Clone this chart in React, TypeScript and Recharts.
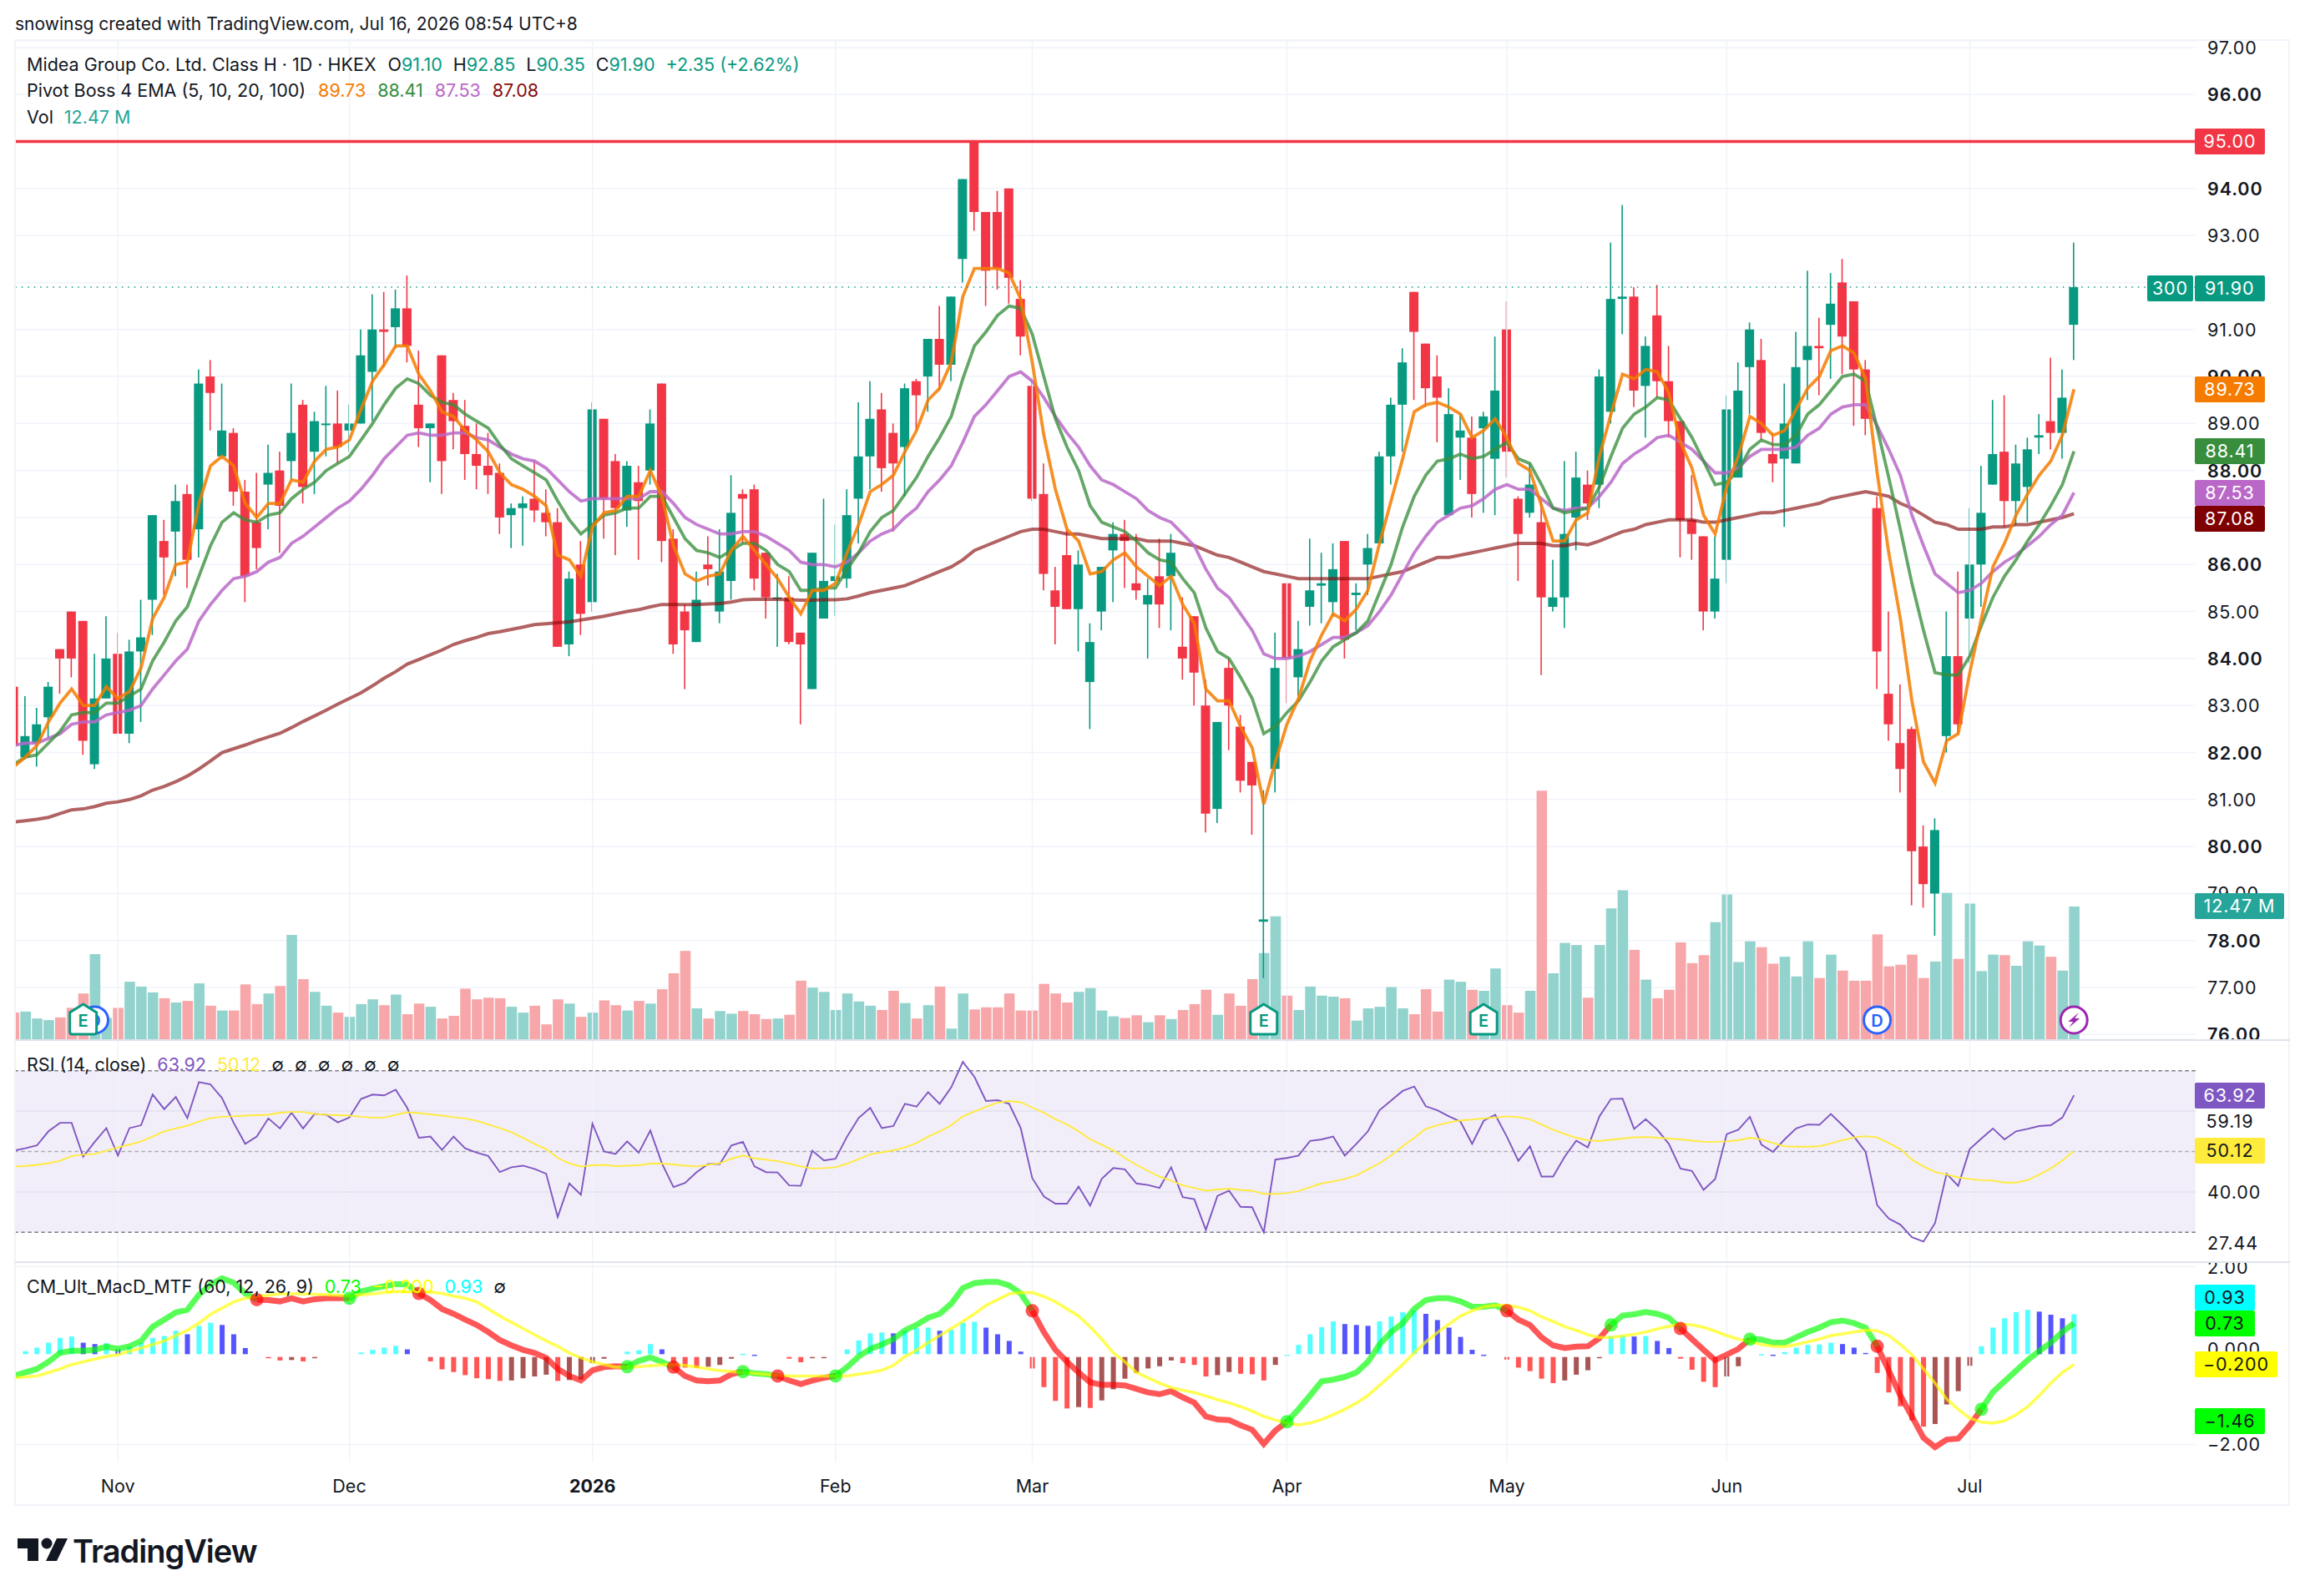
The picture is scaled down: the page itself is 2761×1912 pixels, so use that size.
import React from 'react';
import { ComposedChart, Bar, Line, XAxis, YAxis, CartesianGrid, ReferenceLine, ReferenceArea, ReferenceDot } from 'recharts';

const opens = [
  83.4,81.9,82.2,82.75,84.2,85,84.8,81.75,83.15,84.1,
  82.4,84.15,85.25,86.5,86.7,87.5,86.75,90,88.3,88.8,
  87.55,86.9,87.7,88,88.2,89.4,88.4,89,89,88.85,
  89,90.1,91,91.05,91.45,89.4,88.9,90.45,89.5,88.95,
  88.35,88.1,87.95,87.05,87.2,87.4,87.1,86.9,84.3,86,
  85.2,89.1,88.2,87.15,87.75,88,89.85,86.55,85,84.35,
  86,85,85.65,87.5,87.6,86.25,85.3,85.3,84.55,83.35,
  84.85,85.65,85.7,87.4,88.3,89.3,88.8,88.5,89.9,90,
  90.8,90.25,92.5,95,93.5,93.5,94,91.65,89.8,87.5,
  85.45,86.2,85.05,83.5,85,86.3,86.65,85.6,85.15,85.75,
  85.75,84.25,84.9,83,80.8,83.8,82.55,81.8,78.4,81.65,
  85.6,83.6,85.1,85.55,85.2,86.5,85.35,86,86.45,88.3,
  89.4,91.8,90.7,90,87.05,88.7,88.7,88.9,88.25,91,
  87.4,87.1,86.9,85.1,85.3,87,87.7,87.7,89.25,91.65,
  91.7,89.8,91.3,89.9,89.05,86.95,86.6,85,86.1,87.85,
  90.2,90.35,88.35,88.25,88.15,90.35,90.65,91.1,92,91.6,
  90.15,87.2,83.25,82.2,82.5,80,79,82.35,84.05,84.85,
  86,87.7,88.4,87.35,87.65,88.7,89.05,88.8,91.1,
];
const highs = [
  83.4,83.2,82.95,83.5,84.2,85,84.8,84.1,84.9,84.55,
  84.4,85.25,87.05,86.95,87.7,87.7,90.15,90.35,89.85,88.9,
  87.8,87.95,88.55,88.4,89.85,89.5,89.25,89.8,89.7,89.4,
  91,91.75,91.8,91.85,92.15,90.55,89,90.45,89.65,89.5,
  89,88.8,88.15,87.3,87.45,88.2,87.6,87.2,85.85,86.5,
  89.45,89.1,88.35,88.2,88.1,89.3,89.85,86.75,85.15,85.85,
  86.6,86.75,87.9,87.6,87.7,86.25,85.8,85.75,84.55,86.25,
  87.4,86.85,87.6,89.45,89.9,89.65,89,89.85,89.95,90.8,
  91.5,91.7,94.2,95,93.5,93.95,94,92.05,89.95,88.15,
  85.95,86.75,86.3,84.75,85.95,86.9,86.95,86.65,85.7,86.55,
  86.65,85.3,84.9,83.55,82.65,84,82.8,81.8,81.2,84.55,
  85.6,84.8,86.55,86.25,86.45,86.5,85.6,86.65,88.4,89.55,
  90.6,91.8,90.7,90.45,89.75,89.2,89.15,89.25,90.85,91.6,
  87.45,88.15,87.4,86.1,88.2,88.4,88,90.15,92.85,93.65,
  91.9,90.85,91.95,90.65,89.05,87.9,86.6,86.6,89.6,90.3,
  91.15,90.8,88.8,89.85,90.95,92.25,91.25,92.2,92.5,91.6,
  90.35,87.45,85,83.45,82.55,80.45,80.6,85,85.85,87.2,
  88.1,89.5,89.6,88.55,88.7,89.2,90.4,90.15,92.85,
];
const lows = [
  82.15,81.85,81.7,82.3,83.25,83.6,81.95,81.65,83.15,82.4,
  82.2,82.65,84.5,85.35,85.75,85.5,86.15,88.85,88.3,87.25,
  85.2,85.9,86.75,86.25,87.8,87.3,87.5,88.3,88.15,88.4,
  89,89.05,90.2,90.6,90.3,88.5,87.75,87.5,88.45,87.8,
  87.6,87.5,86.65,86.35,86.4,86.9,86.6,84.25,84.05,84.5,
  85,86.55,86.2,86.8,86.1,87.7,86.05,84.1,83.35,84.35,
  85.55,84.75,85.25,86.45,85.45,84.85,84.25,84.3,82.6,83.35,
  84.85,84.9,85.5,86.45,87.6,87.55,86.7,87.45,88.85,89.25,
  89.7,89.9,92,93.1,91.5,91.85,91.55,90.45,87.35,85.45,
  84.3,85.05,84.15,82.5,84.6,85.2,85.5,85.25,84,84.65,
  84.6,83.55,83,80.3,80.5,82.05,81.15,80.25,77.2,81.15,
  83.05,83.2,84.7,84.75,84.9,84,84.6,85.35,86.45,87.7,
  88.4,89.5,89.35,88.6,87.05,87.8,87,87.1,87.05,87.85,
  85.65,87,83.65,85,84.65,86.3,86.95,87.2,89,90.9,
  89.35,88.7,89.55,88.7,86.15,86.1,84.6,84.85,85.6,87.85,
  89.2,88.65,87.75,86.8,88.15,89.5,89.6,89.95,90.05,88.95,
  88.75,83.35,82.25,81.15,78.75,78.7,78.1,82,82.4,83.9,
  85.1,87.7,86.8,86.85,86.9,88.35,88.45,88.25,90.35,
];
const closes = [
  82.15,82.35,82.6,83.4,84,84,82.25,83.15,84,82.4,
  84.15,84.45,87.05,86.15,87.35,86.1,89.85,89.65,88.85,87.55,
  85.75,86.35,87.95,87.25,88.8,87.65,89.05,89,88.5,89,
  90.45,91,90.95,91.45,90.65,88.9,89,88.2,89.05,88.35,
  88.1,87.9,87,87.2,87.3,87.15,86.9,84.25,85.7,84.95,
  89.3,87.4,87.2,88.1,87.35,89,86.5,84.3,84.6,85.25,
  85.9,85.85,87.1,87.4,85.7,85.3,85.3,84.35,84.3,86.25,
  85.65,85.75,87.05,88.3,89.1,88.05,88.15,89.75,89.6,90.8,
  90.25,91.7,94.2,93.5,92.25,92.3,92.1,90.85,87.4,85.8,
  85.1,85.05,86,84.35,85.95,86.65,86.5,85.45,85.35,85.15,
  86.25,84,83.7,80.7,82.65,83,81.4,81.3,78.45,83.8,
  84,84.2,85.45,85.6,85.9,84.4,85.4,86.35,88.3,89.4,
  90.3,90.95,89.75,89.55,89.2,88.85,87.5,89.15,89.7,88.4,
  86.65,87.7,85.3,85.3,86.65,87.85,87.3,90,91.65,91.7,
  89.7,90.65,89.9,89.05,86.95,86.65,85,85.7,89.3,89.7,
  91,88.8,88.15,89,90.2,90.65,90.6,91.55,90.85,90.15,
  89.1,84.15,82.6,81.65,79.9,79.2,80.35,84.05,82.6,86,
  87.1,88.35,87.35,88.15,88.45,88.75,88.8,89.55,91.9,
];
const volumes = [
  2.5,2.6,1.95,1.8,2.05,2.95,4.3,8,2,2.95,
  5.4,4.95,4.4,3.85,3.45,3.6,5.25,3.15,2.7,2.7,
  5.15,3.3,4.3,5,9.8,5.65,4.45,3.15,2.5,2.1,
  3.3,3.75,3.2,4.2,2.35,3.35,3.05,1.95,2.2,4.75,
  3.75,3.9,3.85,3.05,2.5,3.15,1.4,3.75,3.35,2.1,
  2.5,3.65,3.2,2.7,3.6,3.35,4.7,6.2,8.3,2.9,
  1.95,2.65,2.4,2.65,2.35,1.9,1.95,2.3,5.5,4.85,
  4.45,2.75,4.3,3.55,3.15,2.75,4.55,3.4,1.95,3.2,
  4.95,1,4.3,2.8,3,3,4.3,2.7,2.7,5.2,
  4.3,3.45,4.45,4.8,2.7,2.15,2,2.25,1.6,2.25,
  1.9,2.75,3.3,4.65,2.3,4.3,3.15,5.65,8.1,11.55,
  4.1,2.75,4.95,4.1,4,3.85,1.75,2.9,3.05,4.9,
  2.9,2.35,4.7,2.6,5.6,5.4,4.65,4.55,6.65,3.2,
  2.5,4.55,23.35,6.2,9.05,8.85,3.9,8.85,12.3,14,
  8.4,5.6,3.85,4.65,9.1,7.15,7.9,11,13.6,7.25,
  9.2,8.65,7.1,7.75,5.9,9.2,5.75,7.95,6.45,5.5,
  5.5,9.85,6.85,7,7.95,5.75,7.3,13.75,7.55,12.75,
  6.4,7.95,7.9,6.9,9.2,8.8,7.75,6.45,12.47,
];
const ema5 = [
  81.7,81.9,82.15,82.65,83.05,83.35,83,83,83.4,83.15,
  83.3,83.8,84.85,85.3,86,86.05,87.3,88.1,88.3,88.1,
  87.3,87,87.3,87.3,87.8,87.75,88.2,88.45,88.5,88.65,
  89.3,89.9,90.25,90.65,90.65,90.05,89.7,89.25,89.15,88.85,
  88.65,88.4,87.95,87.7,87.6,87.45,87.25,86.2,86.1,85.75,
  86.8,87.1,87.15,87.45,87.45,88,87.45,86.4,85.8,85.65,
  85.75,85.8,86.3,86.6,86.3,86,85.7,85.3,84.95,85.45,
  85.45,85.6,86.25,86.85,87.55,87.7,87.9,88.4,88.85,89.5,
  89.75,90.3,91.7,92.3,92.3,92.3,92.2,91.65,90.3,88.75,
  87.6,86.75,86.5,85.8,85.85,86.1,86.25,85.95,85.75,85.55,
  85.75,85.15,84.75,83.35,83.1,83.1,82.55,82.1,80.9,81.8,
  82.6,83.15,83.95,84.5,84.95,84.8,85.05,85.45,86.45,87.35,
  88.25,89.25,89.4,89.45,89.35,89.2,88.7,88.85,89.1,88.7,
  88.15,88,87.25,86.5,86.5,86.95,87.1,88.3,89.2,90.05,
  89.95,90.15,90.1,89.65,88.6,88.05,87.05,86.65,87.65,88.3,
  89.15,89,88.75,88.85,89.3,89.75,90,90.55,90.65,90.5,
  89.95,87.95,86.25,84.85,83.1,81.8,81.35,82.25,82.4,83.7,
  84.85,85.95,86.45,87.05,87.5,87.9,88.2,88.75,89.73,
];
const ema10 = [
  81.75,81.9,81.95,82.2,82.45,82.8,82.85,82.85,83.05,83.05,
  83.2,83.35,83.95,84.35,84.8,85.1,85.75,86.4,86.9,87.1,
  86.95,86.9,87.05,87.1,87.4,87.6,87.75,88,88.15,88.3,
  88.65,89,89.4,89.75,89.95,89.85,89.6,89.45,89.4,89.2,
  89.05,88.9,88.55,88.25,88.1,87.95,87.8,87.35,86.95,86.65,
  86.85,87.05,87.1,87.2,87.2,87.45,87.45,87,86.55,86.3,
  86.25,86.15,86.3,86.45,86.45,86.3,86,85.85,85.45,85.45,
  85.5,85.5,85.9,86.25,86.7,87,87.15,87.5,87.85,88.3,
  88.7,89.15,89.95,90.65,90.95,91.3,91.5,91.45,90.9,90,
  89.1,88.5,88,87.25,86.9,86.8,86.7,86.5,86.25,86.1,
  86.05,85.7,85.4,84.65,84.15,84,83.6,83.15,82.4,82.55,
  82.85,83.1,83.5,83.95,84.25,84.4,84.55,84.8,85.4,86,
  86.8,87.45,87.9,88.2,88.25,88.35,88.25,88.3,88.45,88.6,
  88.25,88.15,87.7,87.2,87.1,87.15,87.2,87.65,88.3,88.9,
  89.2,89.35,89.55,89.5,89.1,88.7,88.2,87.7,87.75,88,
  88.45,88.65,88.55,88.55,88.75,89.2,89.4,89.7,90,90.05,
  89.9,88.9,87.85,86.75,85.6,84.6,83.7,83.65,83.65,84.05,
  84.7,85.3,85.75,86.1,86.5,86.85,87.25,87.7,88.41,
];
const ema20 = [
  82.15,82.2,82.2,82.3,82.4,82.6,82.65,82.65,82.8,82.85,
  82.9,83,83.35,83.65,83.95,84.2,84.8,85.15,85.45,85.7,
  85.75,85.85,86.05,86.15,86.45,86.6,86.8,87,87.2,87.35,
  87.6,87.9,88.25,88.5,88.75,88.8,88.75,88.75,88.8,88.8,
  88.7,88.65,88.5,88.35,88.25,88.2,88.05,87.8,87.55,87.35,
  87.4,87.4,87.4,87.4,87.4,87.55,87.55,87.3,87,86.85,
  86.75,86.65,86.65,86.7,86.7,86.6,86.45,86.3,86.05,86,
  86,85.95,86.05,86.25,86.5,86.65,86.75,87,87.2,87.55,
  87.8,88.1,88.6,89.15,89.4,89.7,90,90.1,89.9,89.55,
  89.15,88.8,88.5,88.1,87.8,87.7,87.55,87.4,87.15,87,
  86.9,86.65,86.4,85.9,85.5,85.3,84.95,84.6,84.1,84,
  84,84.05,84.15,84.3,84.45,84.45,84.55,84.7,85,85.35,
  85.8,86.25,86.6,86.9,87.05,87.2,87.25,87.4,87.6,87.7,
  87.6,87.6,87.4,87.2,87.15,87.2,87.2,87.45,87.75,88.15,
  88.35,88.5,88.7,88.75,88.6,88.45,88.2,87.95,87.95,88.05,
  88.3,88.45,88.45,88.45,88.5,88.75,88.9,89.2,89.35,89.4,
  89.4,88.95,88.45,87.9,87.05,86.4,85.8,85.6,85.4,85.45,
  85.6,85.85,86.05,86.2,86.4,86.6,86.85,87.05,87.53,
];
const ema100 = [
  80.52,80.55,80.58,80.62,80.7,80.78,80.8,80.85,80.92,80.95,
  81,81.08,81.2,81.28,81.38,81.5,81.65,81.82,82,82.08,
  82.16,82.25,82.33,82.41,82.53,82.66,82.78,82.9,83.03,83.15,
  83.27,83.42,83.58,83.72,83.88,83.98,84.08,84.18,84.3,84.38,
  84.45,84.53,84.57,84.62,84.67,84.72,84.74,84.76,84.78,84.82,
  84.86,84.9,84.95,85,85.04,85.1,85.15,85.15,85.15,85.15,
  85.16,85.17,85.2,85.25,85.26,85.26,85.26,85.25,85.24,85.24,
  85.25,85.25,85.27,85.33,85.4,85.45,85.5,85.55,85.65,85.75,
  85.85,85.95,86.1,86.3,86.4,86.5,86.6,86.7,86.75,86.75,
  86.7,86.65,86.65,86.6,86.55,86.55,86.55,86.55,86.5,86.5,
  86.5,86.45,86.4,86.3,86.2,86.15,86.05,85.95,85.85,85.8,
  85.75,85.7,85.7,85.7,85.7,85.7,85.7,85.7,85.75,85.8,
  85.85,85.95,86.05,86.15,86.15,86.2,86.25,86.3,86.35,86.4,
  86.45,86.45,86.45,86.4,86.4,86.45,86.42,86.5,86.6,86.7,
  86.75,86.85,86.9,86.95,86.95,86.95,86.9,86.9,86.95,87,
  87.05,87.1,87.1,87.15,87.2,87.25,87.3,87.4,87.45,87.5,
  87.55,87.5,87.45,87.3,87.2,87.05,86.9,86.85,86.75,86.75,
  86.75,86.8,86.8,86.85,86.85,86.9,86.95,87,87.08,
];
const rsi = [
  50.2,50.8,51.5,55,57.1,57.1,48.7,52.4,55.8,49,
  55.8,56.5,64.1,60.5,63.5,58.3,67.2,66.6,63.2,57.1,
  51.9,53.7,58.2,55.7,59.6,55.7,59.3,59.1,57.2,58.4,
  63,64.1,63.9,65.3,60.8,53.4,53.7,50.4,53.7,50.8,
  49.7,48.9,44.9,46.1,46.5,45.7,44.5,33.8,42.1,39.3,
  56.9,50,49.4,52.5,49.7,55.2,47.1,41.2,42.2,44.9,
  46.9,46.9,51.5,52.4,46.3,44.9,44.8,41.6,41.5,50.2,
  47.8,48.2,53.7,58.3,60.8,55.8,56.3,61.8,61.1,64.7,
  61.8,65.9,72.2,68.5,62.5,62.7,61.8,55.8,43.4,38.9,
  37.1,37.1,41.3,36.6,43.2,45.9,45.6,42.1,41.7,41,
  46.1,38.7,38.2,30.6,39,40.3,36.3,36.2,30,48,
  48.4,49,52.6,53,53.7,49,51.9,55,60.2,62.6,
  65,66.1,61.2,60.2,58.7,57.4,51.9,57.6,59.1,53.7,
  47.7,51.3,43.8,43.8,48.7,52.7,51,58.7,63,63.1,
  55.6,58,55.4,51.9,45.8,45.2,40.5,43.2,54.3,55.4,
  58.6,51.7,49.9,53,55.7,56.7,56.6,59.3,56.5,53.7,
  49.9,36.7,33.4,31.9,28.8,27.7,32.3,44.5,41.5,50.6,
  53.2,55.7,53,55,55.6,56.3,56.5,58.4,63.92,
];
const rsiMa = [
  46.3,46.4,46.7,47.1,47.7,48.9,49.2,49.4,50.2,51,
  51.7,52.5,53.7,55,55.7,56.4,57.4,58.3,58.6,58.7,
  58.9,59,59.1,59.6,59.8,59.8,59.3,59.1,59,58.9,
  58.6,58.4,58.4,59.1,59.7,59.5,59.2,58.9,58.5,58.2,
  57.6,56.7,55.8,54.8,53.4,51.9,50.6,48.4,47.1,46.3,
  46.6,46.7,46.4,46.5,46.6,47,47,46.8,46.5,46.3,
  46.7,47.1,48.2,49,48.3,48,47.6,47,46.3,45.8,
  45.9,46.1,47,48.1,49.3,49.8,50.3,51,52.1,53.7,
  55,56.5,58.7,59.9,61.1,62.1,62.5,62.2,60.9,59.6,
  58,56.7,55,53,51.7,50.3,48.4,46.7,45.2,43.8,
  42.8,41.6,41,40.3,40.6,40.8,40.5,40.3,39.5,39.5,
  39.7,40.2,41.2,42.1,42.6,43.2,44.1,45.6,47.1,49,
  51.3,53.4,55.6,56.5,57.2,57.7,57.9,58.2,58.4,58.7,
  58.5,58,56.7,55.4,54.3,53.4,52.8,52.6,52.9,53.2,
  53.5,53.6,53.4,53.2,53,52.7,52.4,52.4,52.5,52.8,
  53.4,53,52.1,51.3,51.2,51.2,51.3,52,52.8,53.5,
  53.8,53.5,52.1,50.6,48,46.3,44.9,44.3,43.6,43.2,
  42.9,42.8,42.3,42.3,42.9,44.3,45.8,47.8,50.12,
];
const macd = [
  -0.46,-0.38,-0.3,-0.14,0.06,0.11,0.11,0.13,0.2,0.15,
  0.21,0.33,0.65,0.81,0.97,1.03,1.37,1.6,1.74,1.64,
  1.4,1.26,1.25,1.22,1.29,1.22,1.27,1.29,1.29,1.29,
  1.44,1.51,1.56,1.61,1.6,1.4,1.25,1.05,0.94,0.81,
  0.69,0.53,0.35,0.23,0.13,0.06,-0.05,-0.3,-0.46,-0.56,
  -0.33,-0.26,-0.24,-0.25,-0.12,-0.04,-0.14,-0.26,-0.46,-0.56,
  -0.58,-0.56,-0.42,-0.36,-0.4,-0.42,-0.46,-0.56,-0.64,-0.56,
  -0.5,-0.46,-0.26,-0.02,0.15,0.25,0.37,0.57,0.69,0.85,
  0.94,1.17,1.52,1.63,1.66,1.66,1.58,1.4,1.01,0.53,
  0.13,-0.14,-0.38,-0.6,-0.66,-0.66,-0.67,-0.75,-0.83,-0.87,
  -0.8,-0.94,-1.06,-1.37,-1.44,-1.45,-1.57,-1.67,-1.99,-1.69,
  -1.49,-1.21,-0.9,-0.58,-0.54,-0.48,-0.38,-0.14,0.25,0.53,
  0.73,1.05,1.25,1.29,1.29,1.22,1.1,1.1,1.13,1.01,
  0.81,0.69,0.41,0.23,0.17,0.2,0.21,0.39,0.69,0.9,
  0.93,0.98,0.94,0.85,0.61,0.37,0.13,-0.1,0.02,0.15,
  0.37,0.36,0.29,0.29,0.41,0.53,0.63,0.75,0.79,0.73,
  0.63,0.21,-0.34,-0.9,-1.37,-1.85,-2.06,-1.89,-1.87,-1.57,
  -1.21,-0.82,-0.58,-0.34,-0.1,0.1,0.29,0.53,0.73,
];
const macdSignal = [
  -0.5,-0.48,-0.46,-0.38,-0.3,-0.2,-0.14,-0.08,-0.02,0.02,
  0.1,0.17,0.25,0.33,0.45,0.57,0.73,0.93,1.07,1.21,
  1.29,1.33,1.36,1.39,1.39,1.39,1.38,1.37,1.36,1.34,
  1.37,1.39,1.42,1.44,1.44,1.44,1.43,1.4,1.34,1.29,
  1.21,1.05,0.89,0.75,0.61,0.47,0.33,0.21,0.06,-0.05,
  -0.14,-0.2,-0.26,-0.26,-0.25,-0.23,-0.21,-0.2,-0.22,-0.26,
  -0.3,-0.34,-0.36,-0.38,-0.4,-0.42,-0.44,-0.46,-0.46,-0.46,
  -0.46,-0.46,-0.46,-0.42,-0.38,-0.33,-0.22,-0.02,0.12,0.29,
  0.45,0.61,0.77,0.94,1.13,1.26,1.39,1.42,1.42,1.33,
  1.21,1.05,0.89,0.65,0.37,0.06,-0.14,-0.38,-0.5,-0.62,
  -0.72,-0.78,-0.83,-0.91,-0.99,-1.06,-1.15,-1.25,-1.37,-1.45,
  -1.52,-1.56,-1.52,-1.44,-1.33,-1.21,-1.07,-0.9,-0.67,-0.44,
  -0.2,0.06,0.31,0.52,0.71,0.89,1.01,1.1,1.13,1.13,
  1.09,1.01,0.87,0.77,0.65,0.57,0.47,0.41,0.41,0.44,
  0.48,0.53,0.6,0.66,0.71,0.69,0.64,0.55,0.45,0.37,
  0.32,0.25,0.21,0.2,0.25,0.31,0.37,0.45,0.49,0.53,
  0.57,0.56,0.45,0.25,0.02,-0.3,-0.62,-0.98,-1.21,-1.41,
  -1.5,-1.52,-1.47,-1.33,-1.15,-0.9,-0.62,-0.38,-0.2,
];
const macdHist = [
  0,0.1,0.18,0.29,0.4,0.43,0.29,0.26,0.28,0.14,
  0.21,0.29,0.4,0.44,0.56,0.48,0.67,0.74,0.69,0.48,
  0.17,0,-0.04,-0.11,-0.1,-0.13,-0.06,0,0,0,
  0.07,0.13,0.18,0.22,0.14,0,-0.13,-0.31,-0.37,-0.44,
  -0.51,-0.53,-0.57,-0.56,-0.51,-0.47,-0.43,-0.57,-0.55,-0.54,
  -0.17,-0.07,0,0.09,0.12,0.26,0.14,-0.21,-0.27,-0.28,
  -0.25,-0.21,-0.07,0.04,0.02,0,0,-0.07,-0.15,-0.02,
  -0.01,0,0.14,0.34,0.5,0.52,0.5,0.56,0.62,0.63,
  0.56,0.58,0.74,0.76,0.63,0.48,0.33,0.09,-0.29,-0.71,
  -1.02,-1.19,-1.16,-1.18,-1.01,-0.76,-0.52,-0.39,-0.29,-0.24,
  -0.11,-0.17,-0.21,-0.47,-0.44,-0.37,-0.41,-0.42,-0.56,-0.21,
  0.02,0.24,0.48,0.64,0.77,0.71,0.69,0.67,0.77,0.88,
  0.98,1.02,0.94,0.8,0.63,0.42,0.13,0.02,0,-0.09,
  -0.27,-0.35,-0.52,-0.62,-0.56,-0.43,-0.33,-0.06,0.44,0.45,
  0.43,0.44,0.33,0.17,-0.07,-0.32,-0.59,-0.71,-0.47,-0.24,
  0,0.03,0.02,0.08,0.18,0.24,0.25,0.29,0.26,0.18,
  0.06,-0.39,-0.83,-1.14,-1.46,-1.6,-1.54,-1.1,-0.8,-0.23,
  0.21,0.63,0.84,0.98,1.03,0.99,0.92,0.84,0.93,
];

// bars where the MACD line crosses its signal
const crossUp = [29, 53, 63, 71, 110, 138, 150, 170];
const crossDown = [21, 35, 57, 66, 88, 129, 144, 161];
const monthBars = [9, 29, 50, 71, 88, 110, 129, 148, 169];
const monthNames = ['Nov', 'Dec', '2026', 'Feb', 'Mar', 'Apr', 'May', 'Jun', 'Jul'];
const priceTicks = [76,77,78,79,80,81,82,83,84,85,86,87,88,89,90,91,92,93,94,95,96,97];

const BAND_COUNT = 189;
const isMacdUp = (i: number) => {
  const ups = crossUp.filter((c) => c <= i);
  const downs = crossDown.filter((c) => c < i);
  const lastUp = ups.length ? ups[ups.length - 1] : 0;
  const lastDown = downs.length ? downs[downs.length - 1] : -1;
  return lastUp > lastDown;
};
const isMacdDown = (i: number) => {
  const downs = crossDown.filter((c) => c <= i);
  const ups = crossUp.filter((c) => c < i);
  const lastDown = downs.length ? downs[downs.length - 1] : -1;
  const lastUp = ups.length ? ups[ups.length - 1] : -1;
  return lastDown >= 0 && lastDown > lastUp;
};

const rows = Array.from({ length: BAND_COUNT }, (_, i) => ({
  i,
  open: opens[i], high: highs[i], low: lows[i], close: closes[i],
  volume: volumes[i],
  ema5: ema5[i], ema10: ema10[i], ema20: ema20[i], ema100: ema100[i],
  rsi: rsi[i], rsiMa: rsiMa[i],
  hist: macdHist[i], signal: macdSignal[i],
  macdUp: i < macd.length && isMacdUp(i) ? macd[i] : null,
  macdDown: i < macd.length && isMacdDown(i) ? macd[i] : null,
}));

const FONT = 'Inter, "Noto Sans", sans-serif';
const UP = '#089981';
const DOWN = '#f23645';
const GRID = '#f0f3fa';
const CHART_W = 2761;
const MARGIN = { top: 0, bottom: 0, left: 9.53, right: 0 };

const Candle = (props: any) => {
  const { x, y, width, height, payload } = props;
  if (payload.open == null) return null;
  const top = Math.min(y, y + height);
  const k = Math.abs(height) / (payload.high - payload.low);
  const yOpen = top + (payload.high - payload.open) * k;
  const yClose = top + (payload.high - payload.close) * k;
  const color = payload.close >= payload.open ? UP : DOWN;
  return (
    <g>
      <rect x={x + width / 2 - 0.8} y={top} width={1.6} height={Math.abs(height)} fill={color} />
      <rect x={x} y={Math.min(yOpen, yClose)} width={width} height={Math.max(Math.abs(yOpen - yClose), 2)} fill={color} />
    </g>
  );
};

const VolumeBar = (props: any) => {
  const { x, y, width, height, payload } = props;
  if (payload.volume == null) return null;
  return <rect x={x} y={y} width={width} height={height} fill={payload.close >= payload.open ? '#92d3cd' : '#f7a7a9'} />;
};

const HistBar = (props: any) => {
  const { x, y, width, height, payload } = props;
  const v = payload.hist;
  if (!v) return null;
  const prev = macdHist[payload.i - 1] ?? 0;
  const color = v > 0 ? (v >= prev ? '#55ffff' : '#5555ff') : (v <= prev ? '#ff5555' : '#aa5555');
  const top = Math.min(y, y + height);
  const h = Math.abs(height);
  const gap = 1.7;
  return <rect x={x} y={v > 0 ? top : top + gap} width={width} height={Math.max(h - gap, 1.5)} fill={color} />;
};

const PriceTick = (props: any) => {
  const { y, payload } = props;
  const even = payload.value % 2 === 0;
  return (
    <text x={2644} y={y} dominantBaseline="central" fontFamily={FONT} fontSize={21.5} letterSpacing={0.9}
      fontWeight={even ? 600 : 400} fill="#131722">
      {payload.value.toFixed(2)}
    </text>
  );
};

const PlainTick = (props: any) => {
  const { y, payload, digits } = props;
  return (
    <text x={2644} y={y} dominantBaseline="central" fontFamily={FONT} fontSize={21.5} letterSpacing={0.9} fill="#131722">
      {payload.value.toFixed(digits).replace('-', '\u2212')}
    </text>
  );
};

const MonthTick = (props: any) => {
  const { x, y, payload } = props;
  const label = monthNames[monthBars.indexOf(payload.value)];
  return (
    <text x={x} y={y + 20} textAnchor="middle" dominantBaseline="central" fontFamily={FONT} fontSize={21.5}
      fontWeight={label === '2026' ? 700 : 400} fill="#131722">
      {label}
    </text>
  );
};

const EBadge = ({ cx, cy }: any) => (
  <g>
    <path d={`M${cx} ${cy - 19} L${cx + 16} ${cy - 9} V${cy + 14} Q${cx + 16} ${cy + 17} ${cx + 13} ${cy + 17} H${cx - 13} Q${cx - 16} ${cy + 17} ${cx - 16} ${cy + 14} V${cy - 9} Z`}
      fill="#fff" stroke={UP} strokeWidth={3} />
    <text x={cx} y={cy + 1} textAnchor="middle" dominantBaseline="central" fontFamily={FONT} fontSize={20} fontWeight={600} fill={UP}>E</text>
  </g>
);

const DBadge = ({ cx, cy }: any) => (
  <g>
    <circle cx={cx} cy={cy} r={16} fill="#fff" stroke="#2962ff" strokeWidth={3} />
    <text x={cx} y={cy + 1} textAnchor="middle" dominantBaseline="central" fontFamily={FONT} fontSize={20} fontWeight={600} fill="#2962ff">D</text>
  </g>
);

const BoltBadge = ({ cx, cy }: any) => (
  <g>
    <circle cx={cx} cy={cy} r={16} fill="#fff" stroke="#9c27b0" strokeWidth={3} />
    <path d={`M${cx + 6} ${cy - 9} L${cx - 7} ${cy + 2} H${cx - 1} L${cx - 6} ${cy + 9} L${cx + 7} ${cy - 2} H${cx + 1} Z`} fill="#9c27b0" />
  </g>
);

const Tag = ({ left, top, width, height = 31, bg, color = '#fff', children }: any) => (
  <div style={{
    position: 'absolute', left, top, width, height, background: bg, color, borderRadius: 2,
    fontFamily: FONT, fontSize: 21.5, letterSpacing: 0.9, lineHeight: `${height}px`, textAlign: 'center', whiteSpace: 'nowrap',
  }}>{children}</div>
);

const Caption = ({ left, top, size = 21.5, children }: any) => (
  <div style={{
    position: 'absolute', left, top, fontFamily: FONT, fontSize: size, lineHeight: '30px', color: '#131722', whiteSpace: 'nowrap',
  }}>{children}</div>
);

const Sp = ({ c, ml = 0, children }: any) => <span style={{ color: c, marginLeft: ml }}>{children}</span>;

const monthLines = (key: string) => monthBars.map((m) => (
  <ReferenceLine key={key + m} x={m} stroke={GRID} strokeWidth={1.5} />
));

export default function App() {
  return (
    <div style={{ position: 'absolute', left: 0, top: 0, width: 2761, height: 1912, background: '#fff', overflow: 'hidden' }}>
      {/* price + volume pane */}
      <div style={{ position: 'absolute', left: 0, top: 49 }}>
        <ComposedChart width={CHART_W} height={1196} data={rows} margin={MARGIN} barGap={0}>
          <CartesianGrid vertical={false} stroke={GRID} strokeWidth={1.5} />
          {monthLines('p')}
          <XAxis dataKey="i" type="category" scale="band" hide />
          <XAxis dataKey="i" xAxisId="vol" type="category" scale="band" hide />
          <YAxis orientation="right" width={131.2} domain={[75.9, 97.14]} ticks={priceTicks} interval={0}
            allowDataOverflow axisLine={false} tickLine={false} tick={<PriceTick />} />
          <YAxis yAxisId="vol" hide domain={[0, 93.8]} />
          <Bar dataKey="volume" xAxisId="vol" yAxisId="vol" barSize={12.6} shape={<VolumeBar />} isAnimationActive={false} />
          <Line dataKey="ema100" stroke="#880e0e" strokeOpacity={0.65} strokeWidth={4} dot={false} activeDot={false} isAnimationActive={false} />
          <Line dataKey="ema20" stroke="#ba68c8" strokeOpacity={0.85} strokeWidth={3.8} dot={false} activeDot={false} isAnimationActive={false} />
          <Line dataKey="ema10" stroke="#388e3c" strokeOpacity={0.78} strokeWidth={3.8} dot={false} activeDot={false} isAnimationActive={false} />
          <Line dataKey="ema5" stroke="#f57c00" strokeOpacity={0.85} strokeWidth={3.8} dot={false} activeDot={false} isAnimationActive={false} />
          <Bar dataKey={(d: any) => (d.open == null ? null : [d.low, d.high])} barSize={11} shape={<Candle />} isAnimationActive={false} />
          <ReferenceLine y={91.9} stroke={UP} strokeWidth={1.5} strokeDasharray="1.5 6" />
          <ReferenceLine y={95} stroke={DOWN} strokeWidth={3.5} />
          <ReferenceDot x={7} y={76.31} shape={<DBadge />} />
          <ReferenceDot x={6} y={76.31} shape={<EBadge />} />
          <ReferenceDot x={108} y={76.31} shape={<EBadge />} />
          <ReferenceDot x={127} y={76.31} shape={<EBadge />} />
          <ReferenceDot x={161} y={76.31} shape={<DBadge />} />
          <ReferenceDot x={178} y={76.31} shape={<BoltBadge />} />
        </ComposedChart>
      </div>

      {/* RSI pane */}
      <div style={{ position: 'absolute', left: 0, top: 1247 }}>
        <ComposedChart width={CHART_W} height={264} data={rows} margin={MARGIN}>
          {monthLines('r')}
          <XAxis dataKey="i" type="category" scale="band" hide />
          <YAxis orientation="right" width={131.2} domain={[22.83, 77.38]} ticks={[27.44, 40]} interval={0}
            allowDataOverflow axisLine={false} tickLine={false} tick={<PlainTick digits={2} />} />
          <ReferenceArea y1={30} y2={70} fill="#7e57c2" fillOpacity={0.1} stroke="none" />
          <ReferenceLine y={60} stroke="#e3e0f0" strokeWidth={1.5} />
          <ReferenceLine y={40} stroke="#e3e0f0" strokeWidth={1.5} />
          <ReferenceLine y={70} stroke="#787b86" strokeWidth={1.5} strokeDasharray="4.5 3.5" />
          <ReferenceLine y={50} stroke="#a9abb3" strokeWidth={1.5} strokeDasharray="4.5 3.5" />
          <ReferenceLine y={30} stroke="#787b86" strokeWidth={1.5} strokeDasharray="4.5 3.5" />
          <Line dataKey="rsi" stroke="#7e57c2" strokeWidth={1.9} dot={false} activeDot={false} isAnimationActive={false} />
          <Line dataKey="rsiMa" stroke="#ffeb3b" strokeWidth={1.9} dot={false} activeDot={false} isAnimationActive={false} />
        </ComposedChart>
      </div>

      {/* MACD pane with the time axis */}
      <div style={{ position: 'absolute', left: 0, top: 1512 }}>
        <ComposedChart width={CHART_W} height={292} data={rows} margin={MARGIN}>
          {monthLines('m')}
          <XAxis dataKey="i" type="category" scale="band" height={52} ticks={monthBars} interval={0}
            axisLine={false} tickLine={false} tick={<MonthTick />} />
          <YAxis orientation="right" width={131.2} domain={[-2.406, 2.105]} ticks={[-2, 2]} interval={0}
            allowDataOverflow axisLine={false} tickLine={false} tick={<PlainTick digits={2} />} />
          <ReferenceLine y={2} stroke={GRID} strokeWidth={1.5} />
          <ReferenceLine y={-2} stroke={GRID} strokeWidth={1.5} />
          <Bar dataKey="hist" barSize={6} shape={<HistBar />} isAnimationActive={false} />
          <Line dataKey="macdUp" stroke="#00ff00" strokeOpacity={0.66} strokeWidth={7} dot={false} activeDot={false} isAnimationActive={false} />
          <Line dataKey="macdDown" stroke="#ff0000" strokeOpacity={0.66} strokeWidth={7} dot={false} activeDot={false} isAnimationActive={false} />
          <Line dataKey="signal" stroke="#ffff00" strokeOpacity={0.68} strokeWidth={3.6} dot={false} activeDot={false} isAnimationActive={false} />
          {crossUp.map((c) => (
            <ReferenceDot key={'u' + c} x={c} y={macd[c]} r={8} fill="#00ff00" fillOpacity={0.66} stroke="none" />
          ))}
          {crossDown.map((c) => (
            <ReferenceDot key={'d' + c} x={c} y={macd[c]} r={8} fill="#ff0000" fillOpacity={0.66} stroke="none" />
          ))}
        </ComposedChart>
      </div>

      {/* frame and pane separators */}
      <div style={{ position: 'absolute', left: 0, top: 40, width: 17, height: 1780, background: '#fff' }} />
      <div style={{ position: 'absolute', left: 17, top: 47, width: 2726, height: 1757, border: `2.5px solid ${GRID}`, boxSizing: 'border-box', pointerEvents: 'none' }} />
      <div style={{ position: 'absolute', left: 18, top: 1245, width: 2725, height: 2, background: '#e0e3eb' }} />
      <div style={{ position: 'absolute', left: 18, top: 1511, width: 2725, height: 2, background: '#e0e3eb' }} />

      {/* header and legends */}
      <Caption left={18} top={14} size={21}>snowinsg created with TradingView.com, Jul 16, 2026 08:54 UTC+8</Caption>
      <Caption left={32} top={62}>
        Midea Group Co. Ltd. Class H · 1D · HKEX
        <Sp ml={14}>O</Sp><Sp c={UP}>91.10</Sp>
        <Sp ml={13}>H</Sp><Sp c={UP}>92.85</Sp>
        <Sp ml={13}>L</Sp><Sp c={UP}>90.35</Sp>
        <Sp ml={13}>C</Sp><Sp c={UP}>91.90</Sp>
        <Sp c={UP} ml={13}>+2.35 (+2.62%)</Sp>
      </Caption>
      <Caption left={32} top={93}>
        Pivot Boss 4 EMA (5, 10, 20, 100)
        <Sp c="#f57c00" ml={15}>89.73</Sp>
        <Sp c="#388e3c" ml={14}>88.41</Sp>
        <Sp c="#ba68c8" ml={14}>87.53</Sp>
        <Sp c="#880e0e" ml={14}>87.08</Sp>
      </Caption>
      <Caption left={32} top={125}>
        Vol<Sp c="#26a69a" ml={13}>12.47 M</Sp>
      </Caption>
      <Caption left={32} top={1260}>
        RSI (14, close)
        <Sp c="#7e57c2" ml={13}>63.92</Sp>
        <Sp c="#ffeb3b" ml={13}>50.12</Sp>
        {[0, 1, 2, 3, 4, 5].map((n) => <Sp key={n} ml={13}>∅</Sp>)}
      </Caption>
      <Caption left={32} top={1526}>
        CM_Ult_MacD_MTF (60, 12, 26, 9)
        <Sp c="#00ff00" ml={13}>0.73</Sp>
        <Sp c="#ffff00" ml={13}>−0.200</Sp>
        <Sp c="#00ffff" ml={13}>0.93</Sp>
        <Sp ml={13}>∅</Sp>
      </Caption>

      {/* price scale tags */}
      <Tag left={2629} top={154} width={84} bg={DOWN}>95.00</Tag>
      <Tag left={2572} top={329.5} width={55} bg={UP}>300</Tag>
      <Tag left={2628.5} top={329.5} width={84.5} bg={UP}>91.90</Tag>
      <Tag left={2629} top={451} width={84} bg="#f57c00">89.73</Tag>
      <Tag left={2629} top={525} width={84} bg="#388e3c">88.41</Tag>
      <Tag left={2629} top={575} width={84} bg="#ba68c8">87.53</Tag>
      <Tag left={2629} top={606} width={84} bg="#7f0000">87.08</Tag>
      <Tag left={2629} top={1070} width={107} bg="#26a69a">12.47 M</Tag>
      <Tag left={2629} top={1297} width={84} bg="#7e57c2">63.92</Tag>
      <Tag left={2629} top={1328} width={84} bg="transparent" color="#131722">59.19</Tag>
      <Tag left={2629} top={1363} width={84} bg="#ffeb3b" color="#131722">50.12</Tag>
      <Tag left={2629} top={1539} width={72} bg="#00ffff" color="#131722">0.93</Tag>
      <Tag left={2629} top={1570} width={72} bg="#00ff00" color="#131722">0.73</Tag>
      <Tag left={2644} top={1606} width={60} height={14} bg="transparent" color="#131722">
        <span style={{ lineHeight: '20px' }}>0.000</span>
      </Tag>
      <Tag left={2629} top={1619} width={99} bg="#ffff00" color="#131722">−0.200</Tag>
      <Tag left={2629} top={1687} width={84} bg="#00ff00" color="#131722">−1.46</Tag>

      {/* TradingView mark */}
      <svg style={{ position: 'absolute', left: 20, top: 1840 }} width={62} height={34}>
        <path d="M1 3 H26 V30 H13 V15 H1 Z" fill="#131722" />
        <circle cx={36} cy={9} r={6.5} fill="#131722" />
        <path d="M48 3 H61 L48 30 H35 Z" fill="#131722" />
      </svg>
      <div style={{ position: 'absolute', left: 87, top: 1834, fontFamily: FONT, fontSize: 38, fontWeight: 600, letterSpacing: -1, color: '#131722', lineHeight: '48px' }}>
        TradingView
      </div>
    </div>
  );
}
